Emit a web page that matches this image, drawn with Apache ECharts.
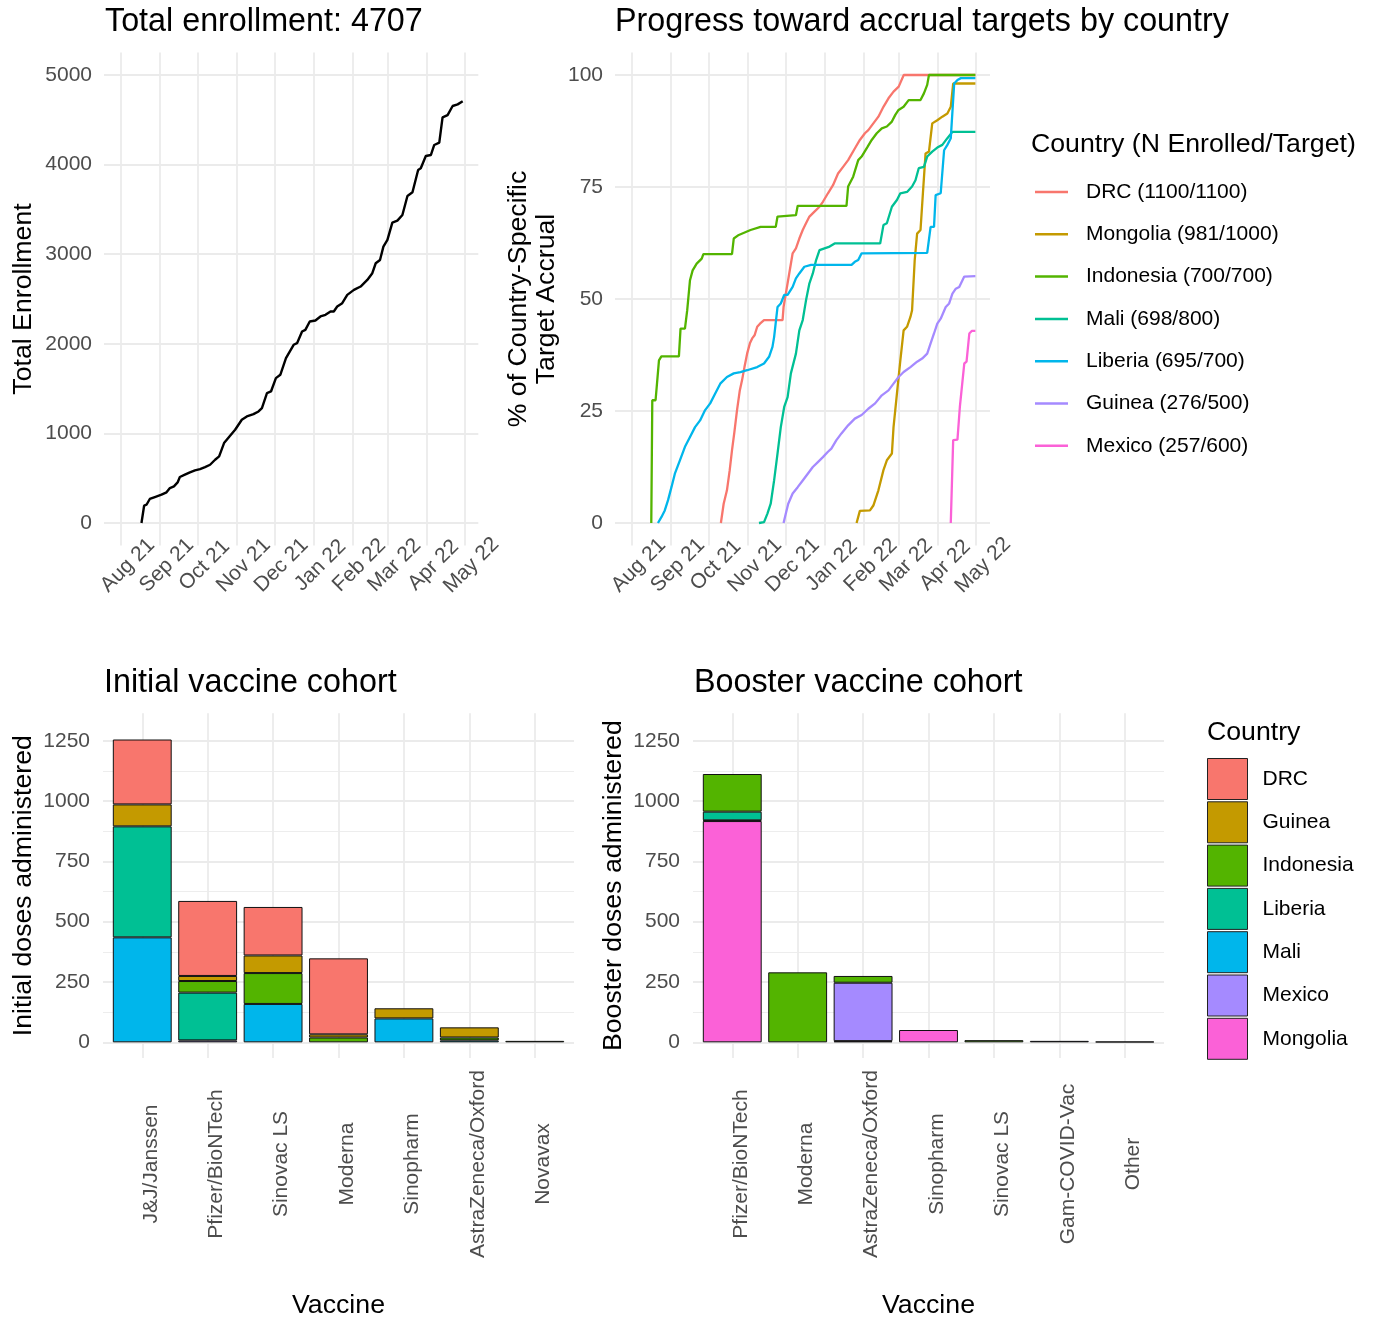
<!DOCTYPE html>
<html>
<head>
<meta charset="utf-8">
<script src="https://cdn.jsdelivr.net/npm/echarts@6/dist/echarts.min.js"></script>
<style>
html,body{margin:0;padding:0;background:#ffffff;}
#chart{width:1374px;height:1318px;}
</style>
</head>
<body>
<div id="chart"></div>
<script>
// ---------------- DATA ----------------
// x values of the line charts are days since 2021-08-01
const DAY0 = '2021-08-01';
const monthTicks = ['2021-08-01','2021-09-01','2021-10-01','2021-11-01','2021-12-01','2022-01-01','2022-02-01','2022-03-01','2022-04-01','2022-05-01'];
const monthNames = ['Jan','Feb','Mar','Apr','May','Jun','Jul','Aug','Sep','Oct','Nov','Dec'];

const totalDays = [16.5,18.6,20.5,23.1,27.1,32.4,36.4,39.1,42.3,45.2,47.0,51.0,55.0,59.0,63.0,67.0,71.0,75.0,78.2,82.1,86.4,90.9,96.2,100.2,105.5,109.5,112.2,116.2,119.4,123.3,126.8,131.3,137.4,140.1,144.1,146.7,150.2,154.7,158.7,162.7,166.7,169.3,172.0,176.0,180.0,185.3,190.6,195.9,199.9,202.6,206.0,208.7,211.9,215.8,219.8,223.8,227.8,231.8,236.3,238.4,242.4,246.4,249.1,253.1,255.7,259.7,263.7,267.7,271.7];
const totalVals = [0,193,204,268,290,316,342,390,409,453,513,539,565,587,602,624,650,706,743,892,966,1041,1152,1189,1215,1245,1282,1450,1468,1617,1654,1840,1989,2007,2137,2156,2249,2260,2305,2323,2360,2360,2416,2453,2546,2602,2639,2713,2788,2899,2936,3085,3160,3353,3375,3438,3650,3691,3940,3959,4096,4107,4219,4245,4527,4553,4654,4672,4707];

const drcDays = [70.7,72.9,75.5,77.7,79.5,81.4,83.5,85.7,87.5,89.4,91.5,93.7,95.5,97.4,99.5,101.7,104.9,119.6,120.4,122.2,124.9,127.6,130.2,132.9,135.6,138.2,140.9,144.9,148.9,151.6,155.6,159.6,163.6,167.6,171.6,176.9,180.9,184.9,187.6,191.6,195.6,199.6,203.6,207.6,211.7,215.7,272.5];
const drcVals = [0,4.3,7.3,11.8,16.2,20.3,25.2,29.6,31.9,34.8,37.8,40.1,41.2,41.9,43.8,44.5,45.3,45.3,48.2,51.2,55.7,60.2,61.3,63.5,65.4,66.9,68.4,69.5,70.6,71.7,73.6,75.4,78.0,79.5,81.0,83.6,85.5,87.0,87.7,89.2,90.7,92.9,94.8,96.3,97.4,100,100];

const mongoliaDays = [178.3,180.9,188.9,191.6,195.6,199.6,202.3,206.3,207.6,210.3,213.0,215.6,218.3,221.0,222.3,224.4,226.3,229.0,230.9,233.0,235.7,238.3,242.3,246.3,250.3,253.0,254.9,258.3,272.5];
const mongoliaVals = [0,2.7,2.8,3.9,7.3,11.8,14.0,15.5,21.4,28.9,36.3,43.0,43.8,46.0,47.5,58.7,64.6,65.4,73.6,82.5,82.9,89.2,89.9,90.7,91.4,92.9,98.1,98.1,98.1];

const indonesiaDays = [15.5,16.3,18.9,21.6,23.5,37.4,38.7,42.2,44.0,46.2,48.3,51.5,55.5,56.8,79.5,80.9,84.9,94.2,102.2,114.2,115.6,130.2,131.6,170.3,171.6,175.6,179.6,182.3,187.1,190.3,194.3,198.3,202.3,206.3,209.0,211.6,215.6,219.6,229.0,231.7,234.3,235.7,272.5];
const indonesiaVals = [0,27.4,27.4,36.3,37.2,37.2,43.4,43.4,47.5,54.2,56.4,57.9,59.0,60.0,60.0,63.5,64.3,65.4,66.1,66.1,68.4,68.7,70.8,70.8,75.1,77.3,81.0,81.8,84.0,85.5,87.0,88.1,88.5,89.6,91.1,92.2,92.9,94.4,94.4,95.9,97.8,100,100];

const maliDays = [100.9,104.9,107.6,110.2,112.9,115.6,118.2,120.9,123.6,126.2,130.2,132.9,135.6,138.2,140.9,143.6,146.2,148.9,156.9,160.9,197.0,199.6,202.3,206.3,210.3,213.0,218.3,222.3,225.0,227.6,231.7,234.3,238.3,242.3,246.3,250.3,254.3,272.5];
const maliVals = [0,0.2,2.1,4.3,9.5,15.5,21.4,25.9,28.1,33.4,37.8,43.0,45.3,49.7,53.5,55.7,58.7,60.9,61.7,62.4,62.4,66.5,66.9,70.6,72.1,73.6,73.9,75.1,76.5,79.2,79.5,81.8,82.9,83.8,84.4,85.9,87.3,87.3];

const liberiaDays = [20.8,23.5,26.2,28.8,31.5,34.2,38.2,42.2,46.2,50.2,54.2,58.2,62.2,66.2,70.2,75.5,80.9,86.2,91.5,99.5,104.9,108.9,111.6,112.9,115.6,118.2,120.9,123.6,127.6,130.2,132.9,136.9,142.2,174.3,176.9,179.6,182.3,234.3,237.0,239.7,241.0,245.0,247.7,250.3,253.0,255.7,258.3,261.0,272.5];
const liberiaVals = [0,1.3,2.8,5.1,8.0,11.0,14.0,17.0,19.2,21.4,22.9,25.2,26.7,28.9,31.1,32.6,33.4,33.7,34.1,34.8,35.6,37.1,39.3,41.5,48.2,49.0,50.9,50.9,52.7,54.6,55.7,57.2,57.6,57.6,58.3,58.7,60.2,60.3,66.1,66.1,73.2,73.6,83.2,84.4,85.9,98.1,98.9,99.3,99.3];

const guineaDays = [120.4,122.2,124.1,127.6,131.6,135.6,139.6,143.6,147.6,151.6,155.6,158.3,162.3,166.3,171.6,176.9,182.3,187.6,193.0,198.3,203.6,207.6,211.6,215.6,221.0,226.3,230.3,234.3,237.0,239.7,242.3,245.0,249.0,251.7,254.3,257.0,259.7,263.7,272.5];
const guineaVals = [0,2.1,4.3,6.6,8.0,9.5,11.0,12.5,13.6,14.7,15.9,16.6,18.5,20.0,21.8,23.3,24.1,25.5,26.7,28.5,29.6,31.1,32.6,33.7,34.8,36.0,36.7,37.8,40.1,42.3,44.5,45.6,48.2,49.0,51.2,52.3,52.7,55.0,55.1];

const mexicoDays = [253.0,254.9,258.3,260.2,263.7,265.5,267.7,269.8,272.5];
const mexicoVals = [0,18.5,18.6,25.9,35.6,36.0,42.3,42.9,42.9];

const accrualNames = ['DRC (1100/1100)','Mongolia (981/1000)','Indonesia (700/700)','Mali (698/800)','Liberia (695/700)','Guinea (276/500)','Mexico (257/600)'];

// bar charts
const countries = ['DRC','Guinea','Indonesia','Liberia','Mali','Mexico','Mongolia'];
const initialVaccines = ['J&J/Janssen','Pfizer/BioNTech','Sinovac LS','Moderna','Sinopharm','AstraZeneca/Oxford','Novavax'];
const initialDRC       = [269, 311, 201, 315, null, null, null];
const initialGuinea    = [91, 21, 73, 13, 42, 42, null];
const initialIndonesia = [null, 48, 128, 20, null, 12, 6];
const initialLiberia   = [460, 198, null, null, null, null, null];
const initialMali      = [435, null, 159, null, 99, 8, null];
const initialMexico    = [null, 8, null, null, null, null, null];
const initialMongolia  = [null, null, null, null, null, null, null];

const boosterVaccines = ['Pfizer/BioNTech','Moderna','AstraZeneca/Oxford','Sinopharm','Sinovac LS','Gam-COVID-Vac','Other'];
const boosterDRC       = [null, null, null, null, null, null, null];
const boosterGuinea    = [null, null, null, null, null, null, null];
const boosterIndonesia = [156, 290, 28, null, 9, null, null];
const boosterLiberia   = [36, null, null, null, null, null, null];
const boosterMali      = [3, null, null, null, null, null, null];
const boosterMexico    = [null, null, 242, null, null, 6, 3];
const boosterMongolia  = [917, null, 5, 51, null, null, null];

const yTicksTotal = [0,1000,2000,3000,4000,5000];
const yTicksPct = [0,25,50,75,100];
const yTicksDoses = [0,250,500,750,1000,1250];
const yMinorDoses = [125,375,625,875,1125];

// ---------------- STYLE ----------------
const FONT = '"Liberation Sans", Arial, Helvetica, sans-serif';
const GRID = '#EBEBEB';
const TICK = '#4D4D4D';
const hue = {DRC:'#F8766D', Guinea:'#C49A00', Indonesia:'#53B400', Liberia:'#00C094', Mali:'#00B6EB', Mexico:'#A58AFF', Mongolia:'#FB61D7'};
const lineColors = ['#F8766D','#C49A00','#53B400','#00C094','#00B6EB','#A58AFF','#FB61D7'];
const TITLE_SIZE = 32.3, NAME_SIZE = 26.7, TEXT_SIZE = 21;

const day0 = Date.parse(DAY0);
const toTime = d => day0 + d * 86400000;
const monthTs = monthTicks.map(s => Date.parse(s));
const xMin = toTime(-13.27);
const xMax = toTime(284.1);

function fmtMonth(v) {
  const d = new Date(v);
  return monthNames[d.getUTCMonth()] + ' ' + String(d.getUTCFullYear()).slice(2);
}

function timeAxis(gi) {
  return {
    type: 'value', gridIndex: gi, min: xMin, max: xMax, scale: true,
    axisLine: {show: false},
    axisTick: {show: false, customValues: monthTs},
    axisLabel: {customValues: monthTs, formatter: fmtMonth, rotate: 45, align: 'center', verticalAlign: 'middle',
      margin: 27, padding: [0, 0, 0, 20], color: TICK, fontSize: TEXT_SIZE, fontFamily: FONT, hideOverlap: false},
    splitLine: {show: true, lineStyle: {color: GRID, width: 1.8}}
  };
}
// background axis: vertical grid lines at the category centres and the rotated category labels
function catBackAxis(gi, names) {
  const ticks = names.map((_, i) => i + 1);
  const labelPos = names.map((_, i) => i + 1.13);
  return {
    type: 'value', gridIndex: gi, min: 0.4, max: 7.6,
    axisLine: {show: false},
    axisTick: {show: false, customValues: ticks},
    axisLabel: {customValues: labelPos, formatter: v => names[Math.round(v) - 1], rotate: 90, align: 'center', verticalAlign: 'middle',
      margin: 106, color: TICK, fontSize: TEXT_SIZE, fontFamily: FONT, hideOverlap: false},
    splitLine: {show: true, lineStyle: {color: GRID, width: 1.8}},
    name: 'Vaccine', nameLocation: 'middle', nameGap: 234,
    nameTextStyle: {fontSize: NAME_SIZE, color: '#000', fontFamily: FONT, lineHeight: 28}
  };
}
// bar axis: a category axis for the stacked bars
function catBarAxis(gi, names) {
  return {type: 'category', gridIndex: gi, data: names, show: false, boundaryGap: true};
}
function valAxis(gi, min, max, ticks, name, gap, showLabel, width, margin) {
  return {
    type: 'value', gridIndex: gi, min: min, max: max, position: 'left',
    axisLine: {show: false},
    axisTick: {show: false, customValues: ticks},
    axisLabel: {show: showLabel, customValues: ticks, formatter: v => String(v), color: TICK, fontSize: TEXT_SIZE, fontFamily: FONT, margin: margin},
    splitLine: {show: true, lineStyle: {color: GRID, width: width}},
    name: name, nameLocation: 'middle', nameGap: gap, nameRotate: 90,
    nameTextStyle: {fontSize: NAME_SIZE, color: '#000', fontFamily: FONT, lineHeight: 28, align: 'center'}
  };
}
function hiddenVal(gi, min, max) {
  return {type: 'value', gridIndex: gi, min: min, max: max, show: false, splitLine: {show: false}};
}

const pair = (days, vals) => days.map((d, i) => [toTime(d), vals[i]]);
const lineData = [
  pair(drcDays, drcVals), pair(mongoliaDays, mongoliaVals), pair(indonesiaDays, indonesiaVals),
  pair(maliDays, maliVals), pair(liberiaDays, liberiaVals), pair(guineaDays, guineaVals), pair(mexicoDays, mexicoVals)
];

const series = [];
series.push({
  type: 'line', name: 'Total', xAxisIndex: 0, yAxisIndex: 0, data: pair(totalDays, totalVals),
  showSymbol: false, symbol: 'none', lineStyle: {color: '#000', width: 2.4}, color: '#000', z: 5
});
accrualNames.forEach((n, i) => {
  series.push({
    type: 'line', name: n, xAxisIndex: 1, yAxisIndex: 1, data: lineData[i],
    showSymbol: false, symbol: 'none', color: lineColors[i], lineStyle: {color: lineColors[i], width: 2.3}
  });
});

const initialTable = {DRC: initialDRC, Guinea: initialGuinea, Indonesia: initialIndonesia, Liberia: initialLiberia, Mali: initialMali, Mexico: initialMexico, Mongolia: initialMongolia};
const boosterTable = {DRC: boosterDRC, Guinea: boosterGuinea, Indonesia: boosterIndonesia, Liberia: boosterLiberia, Mali: boosterMali, Mexico: boosterMexico, Mongolia: boosterMongolia};
const stackOrder = countries.slice().reverse(); // Mongolia at the bottom, DRC on top

function addBars(table, xi, yi, stack) {
  stackOrder.forEach(c => {
    series.push({
      type: 'bar', name: c, xAxisIndex: xi, yAxisIndex: yi, stack: stack, barWidth: '90%',
      color: hue[c],
      itemStyle: {color: hue[c], borderColor: '#111111', borderWidth: 1},
      data: table[c].map(v => (v == null ? '-' : v))
    });
  });
}
addBars(initialTable, 4, 6, 'initial');
addBars(boosterTable, 5, 7, 'booster');

const titleStyle = (size) => ({fontSize: size, fontWeight: 'normal', color: '#000', fontFamily: FONT, lineHeight: Math.round(size * 1.2)});

const DMIN = -65, DMAX = 1363.6;
const barLeftL = 103 + 0.1 * 471 / 7.2, barLeftR = 693 + 0.1 * 471 / 7.2, barW = 7 * 471 / 7.2;
const gridBase = {outerBoundsMode: 'none', containLabel: false};

const option = {
  backgroundColor: '#ffffff',
  animation: false,
  title: [
    {text: 'Total enrollment: 4707', left: 105, top: 3, padding: 0, textStyle: titleStyle(TITLE_SIZE)},
    {text: 'Progress toward accrual targets by country', left: 615, top: 3, padding: 0, textStyle: titleStyle(TITLE_SIZE)},
    {text: 'Initial vaccine cohort', left: 104, top: 664, padding: 0, textStyle: titleStyle(TITLE_SIZE)},
    {text: 'Booster vaccine cohort', left: 694, top: 664, padding: 0, textStyle: titleStyle(TITLE_SIZE)},
    {text: 'Country (N Enrolled/Target)', left: 1031, top: 129, padding: 0, textStyle: titleStyle(NAME_SIZE)},
    {text: 'Country', left: 1207, top: 717, padding: 0, textStyle: titleStyle(NAME_SIZE)}
  ],
  legend: [
    {
      data: accrualNames, orient: 'vertical', left: 1035, top: 180, padding: 0, icon: 'rect',
      itemWidth: 33, itemHeight: 2.5, itemGap: 18.3, selectedMode: false,
      textStyle: {fontSize: TEXT_SIZE, color: '#000', fontFamily: FONT, lineHeight: 24, padding: [0, 0, 0, 13]}
    },
    {
      data: countries, orient: 'vertical', left: 1207, top: 758, padding: 0, icon: 'rect',
      itemWidth: 40, itemHeight: 41, itemGap: 1.3, selectedMode: false,
      itemStyle: {borderColor: '#222', borderWidth: 1},
      textStyle: {fontSize: TEXT_SIZE, color: '#000', fontFamily: FONT, padding: [0, 0, 0, 10]}
    }
  ],
  grid: [
    Object.assign({left: 104, top: 52.6, width: 374.3, height: 492.8}, gridBase),
    Object.assign({left: 615, top: 52.6, width: 375, height: 492.8}, gridBase),
    Object.assign({left: 103, top: 713.3, width: 471, height: 344.7}, gridBase),
    Object.assign({left: 693, top: 713.3, width: 471, height: 344.7}, gridBase),
    Object.assign({left: barLeftL, top: 713.3, width: barW, height: 344.7}, gridBase),
    Object.assign({left: barLeftR, top: 713.3, width: barW, height: 344.7}, gridBase)
  ],
  xAxis: [
    timeAxis(0),
    timeAxis(1),
    catBackAxis(2, initialVaccines),
    catBackAxis(3, boosterVaccines),
    catBarAxis(4, initialVaccines),
    catBarAxis(5, boosterVaccines)
  ],
  yAxis: [
    valAxis(0, -250, 5250, yTicksTotal, 'Total Enrollment', 66, true, 1.8, 12),
    valAxis(1, -5, 105, yTicksPct, '% of Country-Specific\nTarget Accrual', 54, true, 1.8, 12),
    valAxis(2, DMIN, DMAX, yTicksDoses, 'Initial doses administered', 65, true, 1.8, 13),
    valAxis(2, DMIN, DMAX, yMinorDoses, '', 0, false, 0.9, 13),
    valAxis(3, DMIN, DMAX, yTicksDoses, 'Booster doses administered', 65, true, 1.8, 13),
    valAxis(3, DMIN, DMAX, yMinorDoses, '', 0, false, 0.9, 13),
    hiddenVal(4, DMIN, DMAX),
    hiddenVal(5, DMIN, DMAX)
  ],
  series: series
};

const chart = echarts.init(document.getElementById('chart'), null, {renderer: 'canvas'});
chart.setOption(option);
</script>
</body>
</html>
